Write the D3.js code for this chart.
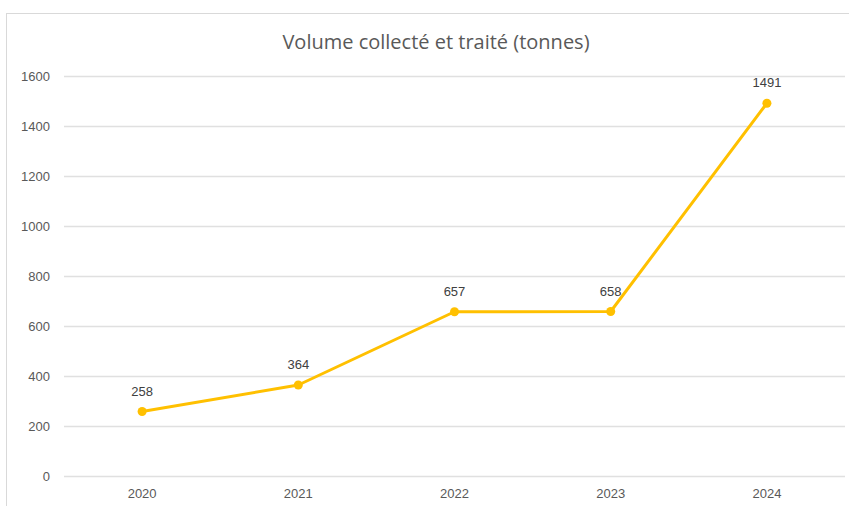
<!DOCTYPE html>
<html>
<head>
<meta charset="utf-8">
<script src="https://cdn.jsdelivr.net/npm/d3@7"></script>
<style>
  body { margin: 0; background: #fff; }
  svg { display: block; font-family: "Liberation Sans", Arial, sans-serif; }
</style>
</head>
<body>
<svg id="chart" width="849" height="506"></svg>
<script>
var years = ["2020", "2021", "2022", "2023", "2024"];
var volumes = [258, 364, 657, 658, 1491];
var yTicks = [0, 200, 400, 600, 800, 1000, 1200, 1400, 1600];

var svg = d3.select("#chart");
var margin = {top: 76, right: 4, bottom: 30, left: 64},
    width = 849 - margin.left - margin.right,
    height = 476 - margin.top;

// chart frame (bottom and right edges fall outside the picture)
svg.append("rect")
    .attr("x", 6.5).attr("y", 13.5)
    .attr("width", 860).attr("height", 520)
    .attr("fill", "#fff")
    .attr("stroke", "#d9d9d9");

svg.append("text")
    .attr("x", 436).attr("y", 49)
    .attr("text-anchor", "middle")
    .attr("font-family", "'Open Sans', sans-serif")
    .attr("font-size", 20)
    .attr("fill", "#595959")
    .text("Volume collecté et traité (tonnes)");

var g = svg.append("g")
    .attr("transform", "translate(" + margin.left + "," + margin.top + ")");

var x = d3.scaleBand().domain(years).range([0, width]);
var y = d3.scaleLinear().domain([0, 1600]).range([height, 0]);

g.append("g")
    .call(d3.axisLeft(y).tickValues(yTicks).tickFormat(d3.format("d")).tickSize(-width).tickPadding(14))
    .call(function(a) {
      a.select(".domain").remove();
      a.selectAll(".tick line").attr("stroke", "#e0e0e0").attr("stroke-width", 1.3);
      a.selectAll(".tick text").attr("fill", "#595959").attr("font-size", 13);
    });

g.append("g")
    .attr("transform", "translate(0," + height + ")")
    .call(d3.axisBottom(x).tickSize(0).tickPadding(13))
    .call(function(a) {
      a.select(".domain").remove();
      a.selectAll(".tick text").attr("fill", "#595959").attr("font-size", 13);
    });

var cx = function(d, i) { return x(years[i]) + x.bandwidth() / 2; };

g.append("path")
    .datum(volumes)
    .attr("fill", "none")
    .attr("stroke", "#FFC000")
    .attr("stroke-width", 3)
    .attr("stroke-linejoin", "round")
    .attr("d", d3.line().x(cx).y(function(d) { return y(d); }));

g.selectAll("circle.pt")
    .data(volumes)
  .enter().append("circle")
    .attr("class", "pt")
    .attr("r", 4.5)
    .attr("cx", cx)
    .attr("cy", function(d) { return y(d); })
    .attr("fill", "#FFC000");

g.selectAll("text.lbl")
    .data(volumes)
  .enter().append("text")
    .attr("class", "lbl")
    .attr("x", cx)
    .attr("y", function(d) { return y(d) - 16; })
    .attr("text-anchor", "middle")
    .attr("font-size", 13)
    .attr("fill", "#404040")
    .text(function(d) { return d; });
</script>
</body>
</html>
